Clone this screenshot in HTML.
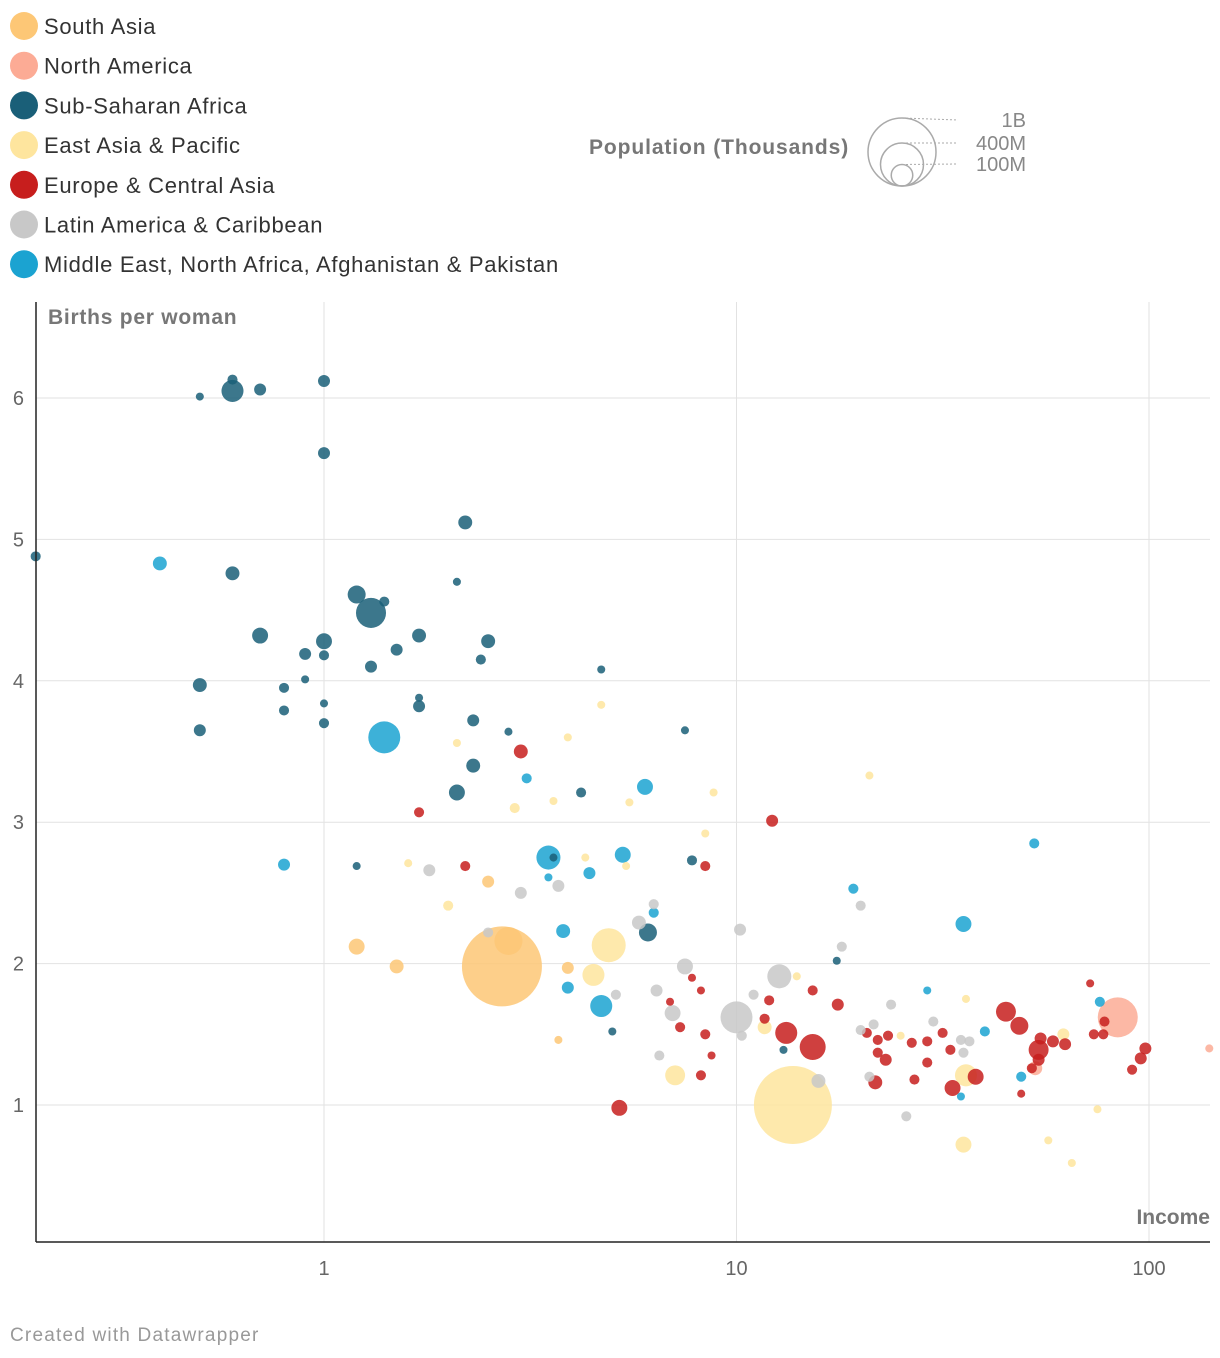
<!DOCTYPE html>
<html><head><meta charset="utf-8">
<style>
body{margin:0;background:#fff;font-family:"Liberation Sans",sans-serif;}
svg{display:block}
</style></head>
<body>
<svg id="chart" width="1220" height="1358" xmlns="http://www.w3.org/2000/svg" font-family="Liberation Sans, sans-serif"></svg>
<script>
const regionNames=["South Asia","North America","Sub-Saharan Africa","East Asia & Pacific","Europe & Central Asia","Latin America & Caribbean","Middle East, North Africa, Afghanistan & Pakistan"];
const regionColors=["#fdc776","#fcab95","#1a5f78","#fee59e","#c71e1d","#c8c8c8","#1ba3d1"];
const xTicks=[1,10,100];
const yTicks=[1,2,3,4,5,6];
const sizeLegend=[1000,400,100];
const sizeLegendLabels=["1B","400M","100M"];
// points grouped: SSA(45), MENA(21), South Asia(7), North America(3), EAP(27), ECA(49), LAC(28)
const groupRegion=[2,6,0,1,3,4,5];
const groupCount=[45,21,7,3,27,49,28];
const income=[
0.2,0.5,0.6,0.6,0.7,1,1,2.2,0.6,2.1,1.2,1.3,1.4,0.7,1,1.7,2.5,0.9,1,1.5,1.3,2.4,4.7,0.5,0.8,0.9,1.7,1.7,1,0.8,1,0.5,2.3,2.8,7.5,2.3,2.1,4.2,1.2,3.6,7.8,6.1,17.5,5.0,13,
0.4,1.4,0.8,3.1,6.0,3.5,5.3,3.5,4.4,6.3,3.8,3.9,4.7,19.2,35.5,52.7,29,40,49,35,76,
2.7,2.8,1.2,1.5,2.5,3.9,3.7,
84,140,53,
13.7,4.9,4.5,7.1,2.1,3.9,4.7,2.9,3.6,5.5,8.8,8.4,4.3,5.4,1.6,2.0,11.7,21,14,25,36,36,35.5,57,65,75,62,
3.0,1.7,2.2,12.2,8.4,7.8,8.2,6.9,7.3,8.4,8.7,8.2,5.2,13.2,15.3,12,11.7,15.3,17.6,20.7,22,23.3,22,23,21.7,26.6,29,31.6,33,27,29,33.4,38,45,48.5,54,52,49,54,54.6,58.5,62.6,72,73.5,78,77.5,95.5,98,91,
1.8,3.0,3.7,2.5,5.8,6.3,7.5,6.4,5.1,7.0,6.5,10,12.7,10.2,10.3,11,15.8,20,18,20,21.5,21,23.7,30,35,36.7,35.5,25.8];
const fertility=[
4.88,6.01,6.05,6.13,6.06,6.12,5.61,5.12,4.76,4.70,4.61,4.48,4.56,4.32,4.28,4.32,4.28,4.19,4.18,4.22,4.10,4.15,4.08,3.97,3.95,4.01,3.88,3.82,3.84,3.79,3.70,3.65,3.72,3.64,3.65,3.40,3.21,3.21,2.69,2.75,2.73,2.22,2.02,1.52,1.39,
4.83,3.60,2.70,3.31,3.25,2.75,2.77,2.61,2.64,2.36,2.23,1.83,1.70,2.53,2.28,2.85,1.81,1.52,1.20,1.06,1.73,
1.98,2.16,2.12,1.98,2.58,1.97,1.46,
1.62,1.40,1.26,
1.0,2.13,1.92,1.21,3.56,3.60,3.83,3.10,3.15,3.14,3.21,2.92,2.75,2.69,2.71,2.41,1.55,3.33,1.91,1.49,1.75,1.21,0.72,0.75,0.59,0.97,1.50,
3.50,3.07,2.69,3.01,2.69,1.90,1.81,1.73,1.55,1.50,1.35,1.21,0.98,1.51,1.41,1.74,1.61,1.81,1.71,1.51,1.46,1.49,1.37,1.32,1.16,1.44,1.45,1.51,1.39,1.18,1.30,1.12,1.20,1.66,1.56,1.39,1.26,1.08,1.32,1.47,1.45,1.43,1.86,1.50,1.59,1.50,1.33,1.40,1.25,
2.66,2.50,2.55,2.22,2.29,2.42,1.98,1.81,1.78,1.65,1.35,1.62,1.91,2.24,1.49,1.78,1.17,2.41,2.12,1.53,1.57,1.20,1.71,1.59,1.46,1.45,1.37,0.92];
const population=[
22,14,105,22,31,31,31,42,42,14,70,195,22,55,55,42,42,31,22,31,31,22,14,42,22,14,14,31,14,22,22,31,31,14,14,42,55,22,14,14,22,70,14,14,14,
42,221,31,22,55,125,55,14,31,22,42,31,105,22,55,22,14,22,22,14,22,
1384,170,55,42,31,31,14,
346,14,42,
1316,250,105,86,14,14,14,22,14,14,14,14,14,14,14,22,42,14,14,14,14,105,55,14,14,14,31,
42,22,22,31,22,14,14,14,22,22,14,22,55,105,146,22,22,22,31,22,22,22,22,31,42,22,22,22,22,22,22,55,55,86,70,86,22,14,31,31,31,31,14,22,22,22,31,31,22,
31,31,31,22,42,22,55,31,22,55,22,221,125,31,22,22,42,22,22,22,22,22,22,22,22,22,22,22];
const region=[];
groupCount.forEach((n,g)=>{for(let k=0;k<n;k++)region.push(groupRegion[g]);});

const NS="http://www.w3.org/2000/svg";
const svg=document.getElementById('chart');
function mk(tag,attrs,parent){const e=document.createElementNS(NS,tag);for(const k in attrs)e.setAttribute(k,attrs[k]);(parent||svg).appendChild(e);return e;}
const X0=36,X1=1210,Y0=302,Y1=1242;
function xScale(v){return 324+412.5*Math.log10(v);}
function yScale(v){return 1105-141.4*(v-1);}
function rScale(p){return 34*Math.sqrt(p/1000);}

// legend
regionNames.forEach((n,i)=>{
  const g=mk('g',{});
  
  
  const y=26+39.7*i;
  mk('circle',{cx:24,cy:y,r:14,fill:regionColors[i]},g);
  const t=mk('text',{x:44,y:y+8,'font-size':22,fill:'#333','letter-spacing':0.7},g);t.textContent=n;
});
// size legend
const st=mk('text',{x:589,y:154,'font-size':21,'font-weight':'bold',fill:'#777','letter-spacing':0.9});


st.textContent='Population (Thousands)';
sizeLegend.forEach((p,i)=>{
  const r=rScale(p);const cy=186-r;
  const c=mk('circle',{cx:902,cy:cy,r:r,fill:'none',stroke:'#aaa','stroke-width':1.5});
  
  
  const ly=[120,143,164][i];
  mk('line',{x1:902,y1:cy-r,x2:958,y2:ly,stroke:'#aaa','stroke-dasharray':'2,2'});
  const t=mk('text',{x:1026,y:ly+7,'font-size':20,fill:'#888','text-anchor':'end'});
  
  
  t.textContent=sizeLegendLabels[i];
});
// grid
yTicks.forEach(v=>{
  const y=yScale(v);
  mk('line',{x1:X0,x2:X1,y1:y,y2:y,stroke:'#e2e2e2','stroke-width':1});
  const t=mk('text',{x:24,y:y+7,'font-size':20,fill:'#666','text-anchor':'end'});
  
  
  t.textContent=v;
});
xTicks.forEach(v=>{
  const x=xScale(v);
  mk('line',{x1:x,x2:x,y1:Y0,y2:Y1,stroke:'#e2e2e2','stroke-width':1});
  const t=mk('text',{x:x,y:1275,'font-size':20,fill:'#666','text-anchor':'middle'});
  
  
  t.textContent=v;
});
// points
const order=population.map((p,i)=>i).sort((a,b)=>population[b]-population[a]);
const pg=mk('g',{});


order.forEach(i=>{
  const c=mk('circle',{cx:xScale(income[i]),cy:yScale(fertility[i]),r:Math.max(4,rScale(population[i])),fill:regionColors[region[i]],'fill-opacity':0.85},pg);
  
  
});
// axes
const ax=mk('line',{x1:X0,x2:X0,y1:Y0,y2:Y1,stroke:'#222','stroke-width':1.5});


const bx=mk('line',{x1:X0,x2:X1,y1:Y1,y2:Y1,stroke:'#222','stroke-width':1.5});


const yt=mk('text',{x:48,y:324,'font-size':21,'font-weight':'bold',fill:'#777','letter-spacing':0.75});


yt.textContent='Births per woman';
const xt=mk('text',{x:1210,y:1224,'font-size':21,'font-weight':'bold',fill:'#777','text-anchor':'end'});


xt.textContent='Income';
const ft=mk('text',{x:10,y:1341,'font-size':19,fill:'#999','letter-spacing':1.2});


ft.textContent='Created with Datawrapper';
</script>
</body></html>
